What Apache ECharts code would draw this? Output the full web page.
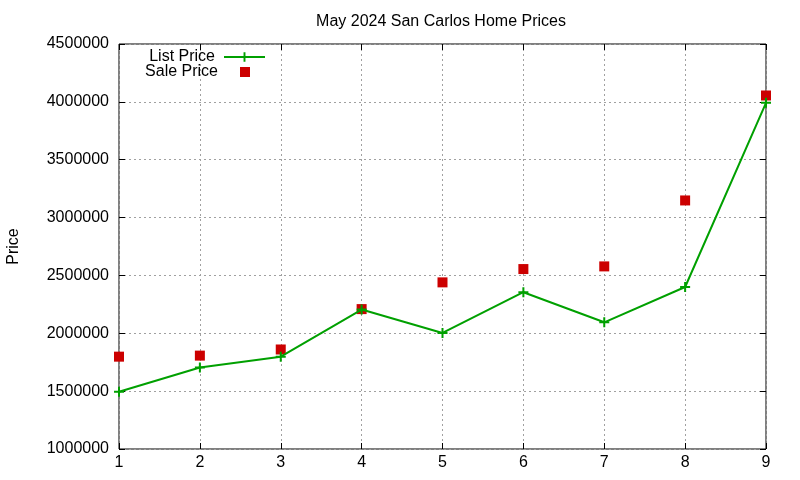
<!DOCTYPE html>
<html>
<head>
<meta charset="utf-8">
<script src="https://cdn.jsdelivr.net/npm/echarts@6/dist/echarts.min.js"></script>
<style>
  html, body { margin: 0; padding: 0; background: #fff; }
  #chart { width: 800px; height: 480px; }
</style>
</head>
<body>
<div id="chart"></div>
<script>
// listing index 1..9
var homes = [1, 2, 3, 4, 5, 6, 7, 8, 9];
var listPrice = [1495000, 1705000, 1798000, 2205000, 2003000, 2355000, 2095000, 2400000, 3992000];
var salePrice = [1798000, 1807000, 1860000, 2209000, 2440000, 2555000, 2578000, 3148000, 4055000];
var yTicks = { min: 1000000, max: 4500000, step: 500000 };

var plusIcon = 'path://M4,0H6V4H10V6H6V10H4V6H0V4H4Z';
var font = 'Liberation Sans, Arial, sans-serif';

function pairs(xs, ys) {
	var out = [];
	for (var i = 0; i < xs.length; i++) out.push([xs[i], ys[i]]);
	return out;
}

var gridLine = { show: true, lineStyle: { color: '#a0a0a0', type: [2, 3], width: 1 } };
var tickIn = { show: true, inside: true, length: 6, lineStyle: { color: '#000' } };

var chartOption = {
	animation: false,
	textStyle: { fontFamily: font },
	title: {
		text: 'May 2024 San Carlos Home Prices',
		left: 436,
		textAlign: 'center',
		top: 9,
		textStyle: { fontSize: 16, fontWeight: 'normal', color: '#000', fontFamily: font }
	},
	legend: [
		{
			data: ['List Price'],
			right: 534,
			top: 49,
			padding: 0,
			align: 'right',
			itemWidth: 41,
			itemHeight: 12,
			textStyle: { fontSize: 16, color: '#000', padding: [0, 4, 0, 0] }
		},
		{
			data: ['Sale Price'],
			right: 550,
			top: 64,
			padding: 0,
			align: 'right',
			itemWidth: 10,
			itemHeight: 10,
			textStyle: { fontSize: 16, color: '#000', padding: [0, 17, 0, 0] }
		}
	],
	grid: {
		left: 119, right: 34, top: 44, bottom: 31,
		outerBoundsMode: 'none',
		containLabel: false,
		show: true, borderColor: '#000', borderWidth: 1
	},
	xAxis: [
		{
			type: 'value', min: 1, max: 9, interval: 1,
			axisLine: { show: false },
			axisTick: tickIn,
			axisLabel: { fontSize: 16, color: '#000', margin: 6 },
			splitLine: gridLine
		},
		{
			type: 'value', min: 1, max: 9, interval: 1, position: 'top',
			axisLine: { show: false },
			axisTick: tickIn,
			axisLabel: { show: false },
			splitLine: { show: false }
		}
	],
	yAxis: [
		{
			type: 'value', min: yTicks.min, max: yTicks.max, interval: yTicks.step,
			name: 'Price', nameLocation: 'middle', nameRotate: 90, nameGap: 97,
			nameTextStyle: { fontSize: 16, color: '#000' },
			axisLine: { show: false },
			axisTick: tickIn,
			axisLabel: {
				fontSize: 16, color: '#000', margin: 10,
				formatter: function (v) { return String(v); }
			},
			splitLine: gridLine
		},
		{
			type: 'value', min: yTicks.min, max: yTicks.max, interval: yTicks.step, position: 'right',
			axisLine: { show: false },
			axisTick: tickIn,
			axisLabel: { show: false },
			splitLine: { show: false }
		}
	],
	series: [
		{
			name: 'List Price',
			type: 'line',
			data: pairs(homes, listPrice),
			symbol: plusIcon,
			symbolSize: 10,
			showAllSymbol: true,
			lineStyle: { color: '#00a000', width: 2 },
			itemStyle: { color: '#00a000' }
		},
		{
			name: 'Sale Price',
			type: 'scatter',
			data: pairs(homes, salePrice),
			symbol: 'rect',
			symbolSize: 10,
			itemStyle: { color: '#cc0000', opacity: 1 }
		}
	]
};

var domMain = document.getElementById('chart');
var priceChart = echarts.init(domMain);
priceChart.setOption(chartOption, true);
</script>
</body>
</html>
